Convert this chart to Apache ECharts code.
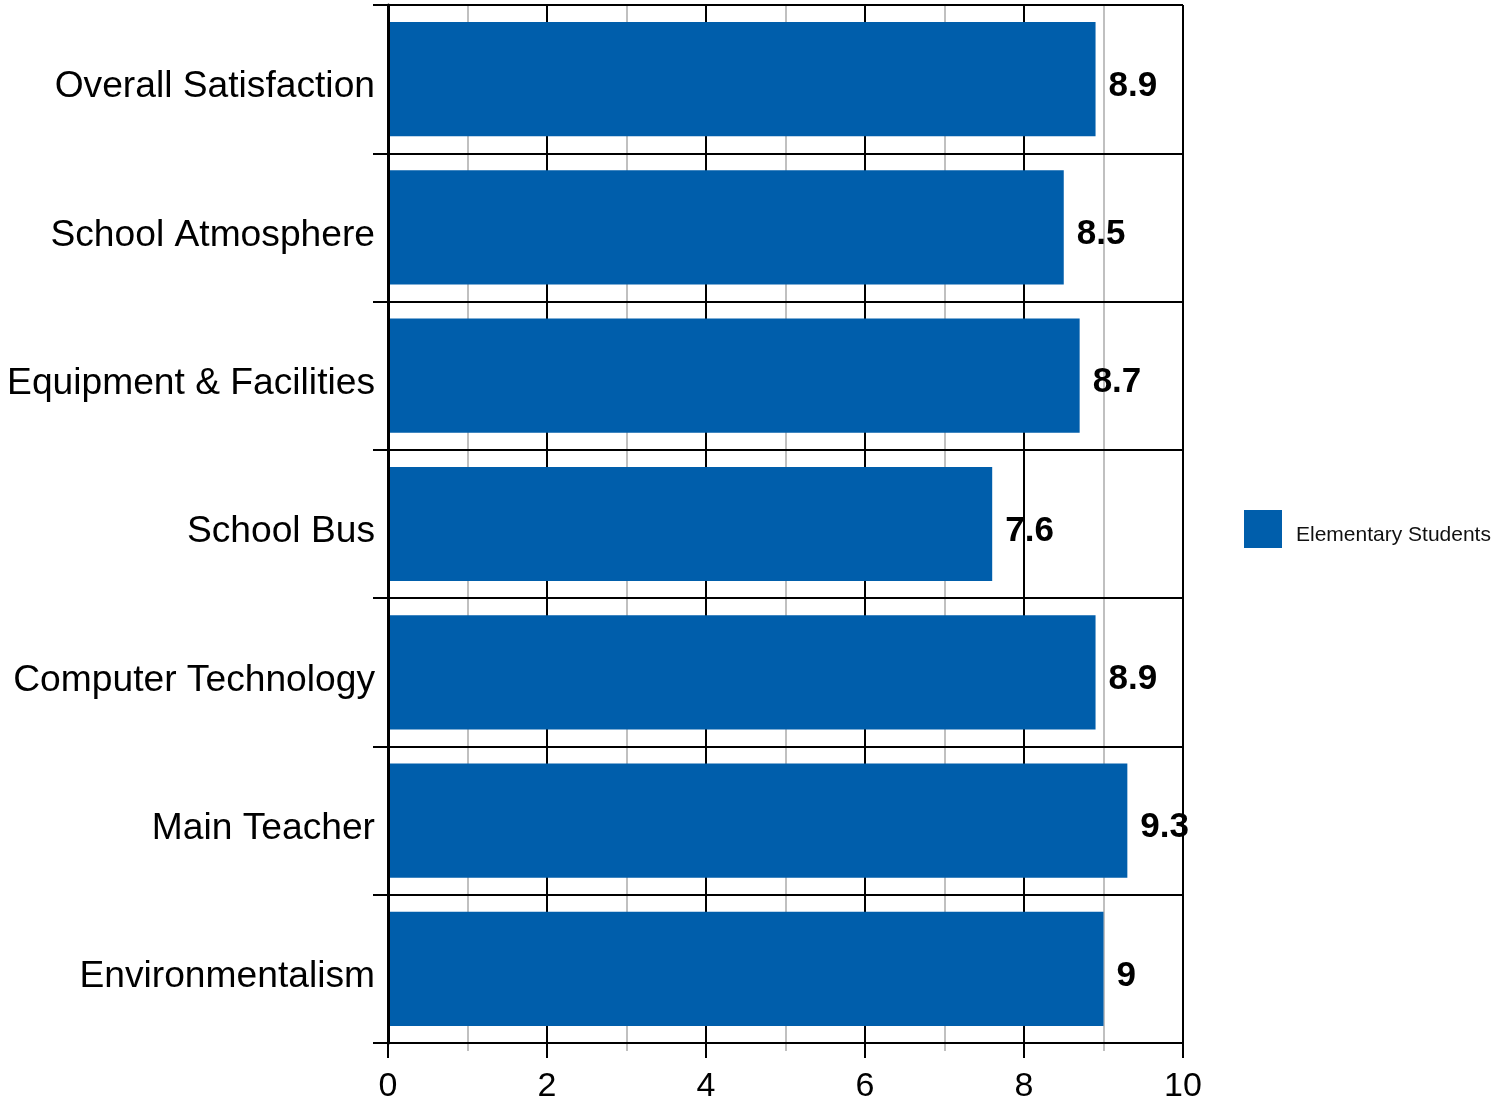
<!DOCTYPE html>
<html>
<head>
<meta charset="utf-8">
<script src="https://cdn.jsdelivr.net/npm/echarts@6/dist/echarts.min.js"></script>
<style>
html,body{margin:0;padding:0;background:#fff;}
#chart{width:1510px;height:1103px;}
</style>
</head>
<body>
<div id="chart"></div>
<script>
const categories = ["Overall Satisfaction", "School Atmosphere", "Equipment & Facilities", "School Bus", "Computer Technology", "Main Teacher", "Environmentalism"];
const seriesName = "Elementary Students";
const values = [8.9, 8.5, 8.7, 7.6, 8.9, 9.3, 9];
const xTicks = [0, 2, 4, 6, 8, 10];

const chart = echarts.init(document.getElementById('chart'), null, {renderer: 'canvas'});
const FONT = '"Liberation Sans", Arial, sans-serif';
chart.setOption({
  animation: false,
  backgroundColor: '#ffffff',
  textStyle: {fontFamily: FONT},
  grid: {left: 388, right: 327, top: 5, bottom: 60, containLabel: false, outerBoundsMode: 'none'},
  legend: {
    show: true,
    orient: 'vertical',
    left: 1244,
    top: 510,
    padding: 0,
    itemWidth: 38,
    itemHeight: 38,
    itemGap: 14,
    icon: 'rect',
    data: [seriesName],
    formatter: '{a|{name}}',
    textStyle: {
      fontFamily: FONT, fontSize: 21, color: '#111', padding: [0, 0, 0, 9],
      rich: {a: {fontFamily: FONT, fontSize: 21, color: '#111', padding: [13, 0, 0, 0]}}
    }
  },
  xAxis: {
    type: 'value',
    min: xTicks[0],
    max: xTicks[xTicks.length - 1],
    interval: 2,
    axisLine: {show: true, lineStyle: {color: '#000', width: 2}},
    axisTick: {show: true, length: 15, lineStyle: {color: '#000', width: 2}},
    minorTick: {show: true, splitNumber: 2, length: 8, lineStyle: {color: '#c0c0c0', width: 2}},
    splitLine: {show: true, lineStyle: {color: '#000', width: 2}},
    minorSplitLine: {show: true, lineStyle: {color: '#c0c0c0', width: 2}},
    axisLabel: {fontFamily: FONT, fontSize: 34, color: '#000', margin: 27,
      formatter: v => xTicks.includes(v) ? String(v) : ''}
  },
  yAxis: {
    type: 'category',
    data: categories,
    inverse: true,
    boundaryGap: true,
    z: 5,
    axisLine: {show: true, lineStyle: {color: '#000', width: 3}},
    axisTick: {show: true, length: 15, lineStyle: {color: '#000', width: 2}},
    splitLine: {show: true, lineStyle: {color: '#000', width: 2}},
    axisLabel: {fontFamily: FONT, fontSize: 37.2, color: '#000', margin: 13, verticalAlign: 'top', lineHeight: 16}
  },
  series: [{
    name: seriesName,
    type: 'bar',
    data: values,
    barCategoryGap: '23%',
    itemStyle: {color: '#005EAB'},
    label: {
      show: true,
      position: 'right',
      distance: 13,
      offset: [0, 7],
      fontFamily: FONT,
      fontSize: 35,
      fontWeight: 'bold',
      color: '#000'
    },
    z: 3
  }]
});
</script>
</body>
</html>
